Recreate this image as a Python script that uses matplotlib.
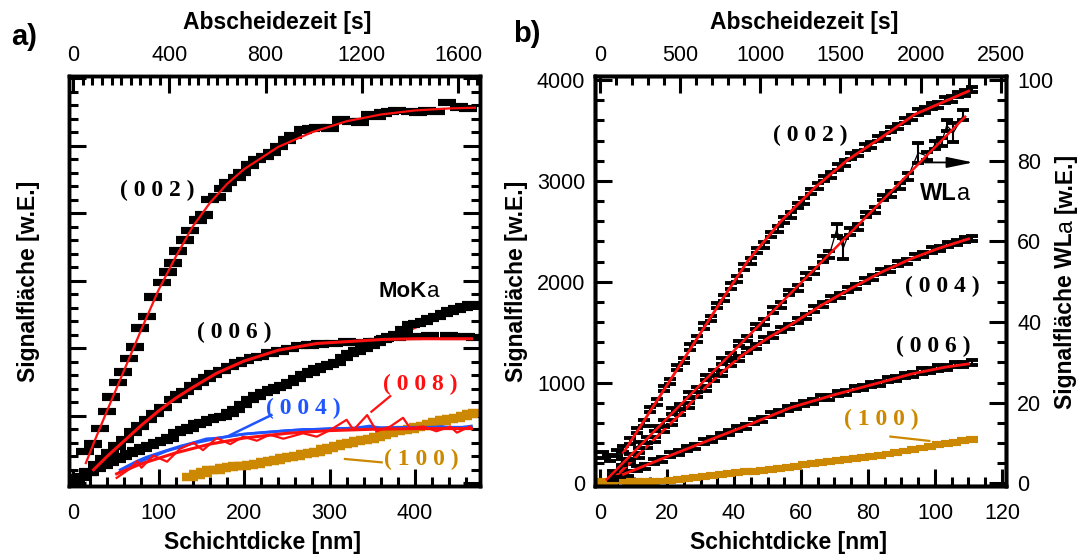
import matplotlib
matplotlib.use("Agg")
import matplotlib.pyplot as plt
from matplotlib.ticker import MultipleLocator

plt.rcParams["font.family"] = ["Liberation Sans", "DejaVu Sans"]
plt.rcParams["font.size"] = 15.5

# ---------------- panel a: thickness [nm] vs. signal area (arb. units) ----------------
a_002_x = [14, 23, 32, 40, 45, 53, 59, 65, 72, 78, 86, 94, 104, 111, 117, 123, 131, 137,
           146, 153, 160, 168, 175, 181, 192, 198, 207, 215, 224, 233, 241, 250, 257, 269,
           278, 287, 301, 314, 325, 336, 347, 356, 363, 371, 379, 394, 404, 414, 425, 437,
           452, 462]
a_002_y = [0.47, 0.58, 0.81, 1.06, 1.28, 1.49, 1.65, 1.85, 2.02, 2.30, 2.47, 2.76, 2.97,
           3.13, 3.26, 3.44, 3.60, 3.74, 3.90, 3.97, 4.20, 4.24, 4.36, 4.45, 4.53, 4.60,
           4.71, 4.79, 4.84, 4.90, 4.99, 5.08, 5.15, 5.23, 5.25, 5.27, 5.26, 5.38, 5.36,
           5.35, 5.45, 5.44, 5.48, 5.50, 5.52, 5.50, 5.49, 5.52, 5.50, 5.64, 5.57, 5.55]
a_002_fit_x = [15, 25, 40, 60, 80, 100, 120, 140, 160, 180, 200, 240, 280, 320, 360, 400, 440, 470]
a_002_fit_y = [0.30, 0.62, 1.08, 1.68, 2.28, 2.86, 3.35, 3.80, 4.15, 4.43, 4.65, 4.98, 5.20,
               5.36, 5.46, 5.52, 5.55, 5.56]

a_006_x = [8, 18, 28, 36, 43, 52, 61, 70, 78, 88, 96, 105, 117, 124, 131, 140, 149, 157, 164,
           174, 184, 193, 201, 210, 219, 230, 242, 254, 265, 277, 289, 305, 320, 335, 350,
           365, 379, 398, 418, 440, 460, 470]
a_006_y = [0.09, 0.17, 0.27, 0.36, 0.45, 0.55, 0.65, 0.76, 0.85, 0.94, 1.03, 1.12, 1.24,
           1.31, 1.36, 1.44, 1.50, 1.56, 1.62, 1.67, 1.73, 1.78, 1.82, 1.86, 1.88, 1.93,
           1.96, 2.00, 2.04, 2.05, 2.06, 2.07, 2.09, 2.08, 2.10, 2.14, 2.16, 2.17, 2.19,
           2.18, 2.17, 2.16]
a_006_fit_x = [24, 40, 60, 80, 100, 120, 140, 168, 200, 240, 285, 324, 363, 402, 466]
a_006_fit_y = [0.20, 0.40, 0.63, 0.86, 1.07, 1.26, 1.42, 1.63, 1.81, 1.97, 2.07, 2.10, 2.13, 2.14, 2.14]

a_mok_x = [4, 12, 20, 28, 36, 43, 51, 58, 66, 74, 82, 90, 98, 106, 114, 122, 130, 137, 145,
           152, 160, 168, 176, 184, 191, 199, 207, 215, 223, 231, 238, 246, 254, 262, 270,
           278, 285, 293, 301, 309, 317, 324, 332, 340, 348, 356, 363, 371, 379, 387, 395,
           402, 410, 418, 426, 434, 441, 449, 457, 465]
a_mok_y = [0.06, 0.10, 0.16, 0.22, 0.27, 0.31, 0.36, 0.40, 0.44, 0.48, 0.52, 0.56, 0.60,
           0.63, 0.67, 0.75, 0.79, 0.82, 0.88, 0.90, 0.94, 0.97, 0.99, 1.04, 1.09, 1.17,
           1.24, 1.29, 1.34, 1.38, 1.42, 1.45, 1.49, 1.55, 1.61, 1.65, 1.69, 1.73, 1.76,
           1.79, 1.86, 1.92, 1.96, 2.00, 2.04, 2.09, 2.13, 2.17, 2.20, 2.28, 2.35, 2.37,
           2.40, 2.44, 2.47, 2.51, 2.55, 2.58, 2.61, 2.64]
a_mok_fit_x = [20, 100, 200, 300, 400, 470]
a_mok_fit_y = [0.17, 0.61, 1.18, 1.74, 2.30, 2.68]

a_100_x = [137, 145, 153, 160, 168, 176, 184, 191, 199, 207, 215, 223, 231, 238, 246, 254,
           262, 270, 278, 285, 293, 301, 309, 317, 324, 332, 340, 348, 355, 363, 371, 379,
           387, 395, 402, 410, 418, 425, 433, 441, 449, 457, 464, 471]
a_100_y = [0.10, 0.13, 0.16, 0.19, 0.20, 0.22, 0.24, 0.25, 0.26, 0.27, 0.28, 0.31, 0.33,
           0.35, 0.37, 0.39, 0.41, 0.43, 0.45, 0.47, 0.50, 0.52, 0.55, 0.58, 0.60, 0.62,
           0.64, 0.66, 0.69, 0.72, 0.75, 0.77, 0.79, 0.81, 0.83, 0.85, 0.88, 0.90, 0.93,
           0.95, 0.97, 0.99, 1.02, 1.04]

a_004_x = [55, 64, 75, 86, 98, 110, 125, 140, 156, 168, 180, 195, 211, 230, 250, 270, 289,
           310, 330, 347, 360, 386, 410, 430, 450, 466]
a_004_y = [0.20, 0.26, 0.33, 0.39, 0.44, 0.49, 0.55, 0.60, 0.66, 0.67, 0.69, 0.72, 0.74,
           0.76, 0.78, 0.80, 0.80, 0.81, 0.82, 0.85, 0.82, 0.83, 0.82, 0.84, 0.82, 0.85]
a_004_fit_x = [55, 80, 110, 140, 170, 200, 250, 300, 350, 400, 466]
a_004_fit_y = [0.17, 0.33, 0.48, 0.59, 0.67, 0.73, 0.78, 0.81, 0.82, 0.83, 0.83]

a_008_x = [51, 67, 75, 80, 94, 110, 125, 141, 152, 168, 184, 199, 215, 230, 246, 269, 285,
           301, 320, 328, 344, 355, 371, 386, 394, 410, 425, 441, 449, 464]
a_008_y = [0.08, 0.22, 0.33, 0.23, 0.41, 0.32, 0.51, 0.60, 0.49, 0.67, 0.58, 0.69, 0.63,
           0.72, 0.66, 0.74, 0.69, 0.79, 0.94, 0.79, 1.01, 0.77, 0.84, 0.97, 0.82, 0.84,
           0.77, 0.84, 0.75, 0.84]
a_008_fit_x = [51, 80, 120, 160, 200, 250, 300, 350, 400, 466]
a_008_fit_y = [0.14, 0.29, 0.45, 0.58, 0.67, 0.74, 0.78, 0.80, 0.81, 0.81]

# ---------------- panel b: thickness [nm] vs. signal area ----------------
b_002_x = [1, 3, 5, 7, 9, 11, 13, 15, 17, 19, 21, 23, 25, 27, 29, 31, 33, 35, 37, 39, 41, 43,
           45, 47, 49, 51, 53, 55, 57, 59, 61, 63, 65, 67, 69, 71, 73, 75, 77, 79, 81, 83,
           85, 87, 89, 91, 93, 95, 97, 99, 101, 103, 105, 107, 109, 111]
b_002_y = [285, 250, 300, 345, 420, 525, 600, 735, 810, 940, 1010, 1150, 1220, 1355, 1430,
           1560, 1635, 1765, 1840, 1960, 2030, 2145, 2205, 2310, 2365, 2470, 2520, 2615,
           2660, 2755, 2800, 2895, 2950, 3025, 3060, 3140, 3175, 3245, 3270, 3335, 3355,
           3420, 3445, 3510, 3540, 3600, 3630, 3685, 3700, 3745, 3755, 3800, 3815, 3855,
           3870, 3905]
b_002_fit_x = [7, 15, 22, 29, 36, 44, 54, 64, 74, 84, 94, 102, 110]
b_002_fit_y = [306, 718, 1078, 1439, 1800, 2200, 2600, 2930, 3210, 3430, 3660, 3775, 3890]

b_004_x = [4, 6.5, 9, 11.5, 14, 16.5, 19, 21.5, 24, 26.5, 29, 31.5, 34, 36.5, 39, 41.5, 44,
           46.5, 49, 51.5, 54, 56.5, 59, 61.5, 64, 66.5, 69, 71.5, 74, 76.5, 79, 81.5, 84,
           86.5, 89, 91.5, 94, 96.5, 99, 101.5, 104, 106.5, 109, 111]
b_004_y = [60, 120, 215, 280, 375, 440, 535, 600, 700, 770, 880, 945, 1040, 1095, 1185,
           1240, 1315, 1360, 1425, 1465, 1525, 1560, 1620, 1660, 1730, 1770, 1830, 1865,
           1925, 1955, 2010, 2045, 2100, 2125, 2180, 2200, 2250, 2270, 2315, 2330, 2370,
           2385, 2420, 2430]
b_004_fit_x = [5, 10, 15, 20, 25, 30, 36, 42, 50, 57, 66, 75, 84, 93, 101, 110]
b_004_fit_y = [80, 240, 400, 560, 720, 905, 1090, 1260, 1440, 1575, 1765, 1935, 2095, 2230, 2330, 2425]

b_006_x = [6, 8.5, 11, 13.5, 16, 18.5, 21, 23.5, 26, 28.5, 31, 33.5, 36, 38.5, 41, 43.5, 46,
           48.5, 51, 53.5, 56, 58.5, 61, 63.5, 66, 68.5, 71, 73.5, 76, 78.5, 81, 83.5, 86,
           88.5, 91, 93.5, 96, 98.5, 101, 103.5, 106, 108.5, 111]
b_006_y = [85, 100, 150, 170, 215, 240, 285, 305, 350, 370, 415, 435, 480, 505, 545, 565,
           610, 630, 680, 700, 745, 760, 795, 810, 850, 855, 895, 905, 940, 950, 985, 990,
           1030, 1040, 1075, 1080, 1115, 1120, 1145, 1150, 1175, 1180, 1200]
b_006_fit_x = [7, 20, 32, 45, 57, 70, 82, 93, 103, 110]
b_006_fit_y = [91, 265, 422, 590, 753, 880, 987, 1086, 1153, 1186]

b_100_x = [-1.5, 1, 3.5, 6, 8.5, 11, 13.5, 16, 18.5, 21, 23.5, 26, 28.5, 31, 33.5, 36, 38.5,
           41, 43.5, 46, 48.5, 51, 53.5, 56, 58.5, 61, 63.5, 66, 68.5, 71, 73.5, 76, 78.5,
           81, 83.5, 86, 88.5, 91, 93.5, 96, 98.5, 101, 103.5, 106, 108.5, 111]
b_100_y = [22, 22, 22, 25, 22, 20, 20, 22, 25, 30, 40, 48, 58, 66, 80, 90, 100, 105, 115,
           122, 132, 140, 150, 158, 170, 185, 195, 205, 215, 228, 235, 245, 255, 268, 280,
           292, 305, 322, 335, 352, 368, 388, 400, 410, 425, 438]

# WL-alpha signal, right-hand scale
b_wl_x = [4, 6.5, 9, 11.5, 14, 16.5, 19, 21.5, 24, 26.5, 29, 31.5, 34, 36.5, 39, 41.5, 44,
          46.5, 49, 51.5, 54, 56.5, 59, 61.5, 64, 66.5, 68.5, 70.6, 72.6, 74.5, 77, 79.5, 82,
          84.5, 87, 89.5, 92, 95, 97.5, 100, 102, 103.5, 105.5, 108.5]
b_wl_y = [2.3, 5.4, 6.6, 9.5, 10.7, 13.6, 15.0, 17.9, 19.1, 22.0, 23.3, 26.3, 27.5, 30.4,
          31.7, 34.7, 35.9, 38.9, 40.1, 43.0, 44.2, 47.3, 48.5, 51.5, 52.6, 55.6, 56.8, 62.8,
          58.3, 62.5, 63.6, 66.7, 67.8, 70.9, 71.8, 73.8, 76.1, 82.0, 81.2, 84.0, 84.6, 88.7,
          87.0, 91.3]
b_wl_err = [0.7, 0.7, 0.7, 0.7, 0.7, 0.7, 0.7, 0.7, 0.7, 0.7, 0.7, 0.7, 0.7, 0.7, 0.7, 0.7,
            0.7, 0.7, 0.7, 0.7, 0.7, 0.7, 0.7, 0.7, 0.7, 0.7, 0.8, 1.4, 2.6, 0.8, 0.7, 0.7,
            0.7, 0.7, 0.8, 0.8, 0.8, 2.5, 0.9, 1.0, 1.0, 1.4, 2.4, 1.2]
b_wl_fit_x = [2, 109]
b_wl_fit_y = [1.0, 90.9]

# deposition-time conversion of the thickness axes [s per nm]
A_SEC_PER_NM = 3.553
B_SEC_PER_NM = 20.9

RED = "#ff1010"
BLUE = "#1f55ff"
GOLD = "#cc8800"

W, H = 1077, 555
fig = plt.figure(figsize=(W / 100, H / 100), dpi=100)


def box(x0, x1, ytop, ybot):
    return [x0 / W, 1 - ybot / H, (x1 - x0) / W, (ybot - ytop) / H]


def frame(ax):
    for sp in ax.spines.values():
        sp.set_linewidth(2.5)
    ax.tick_params(which="both", direction="in", width=2.2)
    ax.tick_params(which="major", length=12)
    ax.tick_params(which="minor", length=6.5)


def bars(ax, x, y, err, color, cap, thick=2.8, z=2):
    ax.errorbar(x, y, yerr=err, fmt="none", ecolor=color, elinewidth=1.5,
                capsize=cap, capthick=thick, zorder=z)


def hkl(ax, x, y, s, color="black"):
    ax.text(x, y, s, ha="center", va="center", fontsize=17, fontweight="bold",
            family=["Liberation Serif", "DejaVu Serif"], color=color, zorder=6)


# ====================== panel a ======================
ax = fig.add_axes(box(69, 480, 76, 486))
ax.set_xlim(-4.7, 476)
ax.set_ylim(-0.04, 6.03)

bars(ax, a_mok_x, a_mok_y, 0.025, "black", 6.5, 3.0)
ax.plot(a_mok_fit_x, a_mok_fit_y, color=RED, lw=1.6, zorder=1)
bars(ax, a_100_x, a_100_y, 0.03, GOLD, 6.0, 3.2)
bars(ax, a_006_x, a_006_y, 0.025, "black", 6.5, 3.0)
ax.plot(a_006_fit_x, a_006_fit_y, color=RED, lw=2.2, zorder=4)
bars(ax, a_002_x, a_002_y, 0.025, "black", 6.5, 3.0)
ax.plot(a_002_fit_x, a_002_fit_y, color=RED, lw=1.6, zorder=4)
ax.plot(a_004_x, a_004_y, color=BLUE, lw=1.8, zorder=3)
ax.plot(a_004_fit_x, a_004_fit_y, color=BLUE, lw=2.0, zorder=3)
ax.plot(a_008_x, a_008_y, color=RED, lw=1.6, zorder=4)
ax.plot(a_008_fit_x, a_008_fit_y, color=RED, lw=2.2, zorder=4)

hkl(ax, 98, 4.33, "( 0 0 2 )")
hkl(ax, 188, 2.24, "( 0 0 6 )")
hkl(ax, 269.5, 1.11, "( 0 0 4 )", BLUE)
hkl(ax, 406, 1.47, "( 0 0 8 )", RED)
hkl(ax, 407, 0.36, "( 1 0 0 )", GOLD)
ax.plot([180, 232], [0.69, 1.01], color=BLUE, lw=1.8, zorder=5)
ax.plot([349, 371], [1.06, 1.29], color=RED, lw=1.6, zorder=5)
ax.plot([318, 361], [0.36, 0.31], color=GOLD, lw=1.6, zorder=5)
ax.text(414, 2.76, "MoK", ha="right", va="baseline", fontsize=16, fontweight="bold")
ax.text(414, 2.76, "a", ha="left", va="baseline", fontsize=16)

frame(ax)
ax.xaxis.set_major_locator(MultipleLocator(100))
ax.xaxis.set_minor_locator(MultipleLocator(20))
ax.yaxis.set_major_locator(MultipleLocator(1))
ax.yaxis.set_minor_locator(MultipleLocator(0.2))
ax.tick_params(which="both", left=True, right=True, top=False, labelleft=False)
ax.tick_params(axis="x", pad=12)

axt = ax.twiny()
axt.set_xlim(-4.7 * A_SEC_PER_NM, 476 * A_SEC_PER_NM)
axt.xaxis.set_major_locator(MultipleLocator(400))
axt.xaxis.set_minor_locator(MultipleLocator(40))
frame(axt)
axt.tick_params(which="both", top=True, bottom=False, labeltop=True, labelbottom=False, pad=7)

# ====================== panel b ======================
bx = fig.add_axes(box(595, 1006, 76, 486))
bx.set_xlim(-1.5, 121.2)
bx.set_ylim(-25, 4040)

bars(bx, b_100_x, b_100_y, 14, GOLD, 4.0, 3.0)
bars(bx, b_006_x, b_006_y, 25, "black", 4.2)
bars(bx, b_004_x, b_004_y, 25, "black", 4.2)
bars(bx, b_002_x, b_002_y, 28, "black", 4.2)
for fx, fy in ((b_002_fit_x, b_002_fit_y), (b_004_fit_x, b_004_fit_y), (b_006_fit_x, b_006_fit_y)):
    bx.plot(fx, fy, color=RED, lw=2.0, zorder=4)

hkl(bx, 62.7, 3454, "( 0 0 2 )")
hkl(bx, 102.2, 1950, "( 0 0 4 )")
hkl(bx, 99.4, 1359, "( 0 0 6 )")
hkl(bx, 83.9, 638, "( 1 0 0 )", GOLD)
bx.plot([86.7, 98.3], [465, 422], color=GOLD, lw=1.6, zorder=5)
bx.text(106.5, 2808, "WL", ha="right", va="baseline", fontsize=17, fontweight="bold")
bx.text(106.5, 2808, "a", ha="left", va="baseline", fontsize=17)
bx.annotate("", xy=(111.4, 3183), xytext=(97, 3183),
            arrowprops=dict(arrowstyle="-|>,head_length=1.6,head_width=0.33",
                            mutation_scale=10, lw=1.3, color="black",
                            shrinkA=0, shrinkB=0), zorder=6)

frame(bx)
bx.xaxis.set_major_locator(MultipleLocator(20))
bx.xaxis.set_minor_locator(MultipleLocator(5))
bx.yaxis.set_major_locator(MultipleLocator(1000))
bx.yaxis.set_minor_locator(MultipleLocator(200))
bx.tick_params(which="both", left=True, right=False, top=False)
bx.tick_params(axis="x", pad=12)
bx.tick_params(axis="y", pad=7)

br = bx.twinx()
br.set_ylim(-25 / 40, 4040 / 40)
bars(br, b_wl_x, b_wl_y, b_wl_err, "black", 4.2)
br.plot(b_wl_x, b_wl_y, color="black", lw=0.9, zorder=3)
br.plot(b_wl_fit_x, b_wl_fit_y, color=RED, lw=1.8, zorder=4)
br.yaxis.set_major_locator(MultipleLocator(20))
br.yaxis.set_minor_locator(MultipleLocator(5))
frame(br)
br.tick_params(which="both", right=True, left=False, labelright=True, labelleft=False, pad=8)

bt = bx.twiny()
bt.set_xlim(-1.5 * B_SEC_PER_NM, 121.2 * B_SEC_PER_NM)
bt.xaxis.set_major_locator(MultipleLocator(500))
bt.xaxis.set_minor_locator(MultipleLocator(100))
frame(bt)
bt.tick_params(which="both", top=True, bottom=False, labeltop=True, labelbottom=False, pad=7)

# ====================== labels ======================
lab = dict(fontsize=16.5, fontweight="bold", ha="center", va="center")
fig.text(262 / W, 1 - 542 / H, "Schichtdicke [nm]", **lab)
fig.text(277 / W, 1 - 22 / H, "Abscheidezeit [s]", **lab)
fig.text(789 / W, 1 - 542 / H, "Schichtdicke [nm]", **lab)
fig.text(804 / W, 1 - 22 / H, "Abscheidezeit [s]", **lab)
fig.text(29 / W, 1 - 281 / H, "Signalfläche [w.E.]", rotation=90, **lab)
fig.text(516 / W, 1 - 281 / H, "Signalfläche [w.E.]", rotation=90, **lab)
fig.text(24 / W, 1 - 37 / H, "a)", fontsize=21, fontweight="bold", ha="center", va="center")
fig.text(527 / W, 1 - 34 / H, "b)", fontsize=21, fontweight="bold", ha="center", va="center")

# right-hand label of panel b, assembled from bold and regular pieces
pieces = [("Signalfläche WL", "bold"), ("a", "normal"), ("[w.E.]", "bold")]
objs = [fig.text(0, 0, s, rotation=90, rotation_mode="anchor", ha="left",
                 va="baseline", fontsize=16.5, fontweight=wgt) for s, wgt in pieces]
fig.canvas.draw()
rend = fig.canvas.get_renderer()
lens = [o.get_window_extent(rend).height for o in objs]
space = 16.5 * 0.28 * 100 / 72
total = sum(lens) + space
y_px = (H - 281) - total / 2
x_base = 1072
for i, o in enumerate(objs):
    o.set_position((x_base / W, y_px / H))
    y_px += lens[i] + (space if i == 1 else 0)

fig.savefig("out.png", dpi=100)
